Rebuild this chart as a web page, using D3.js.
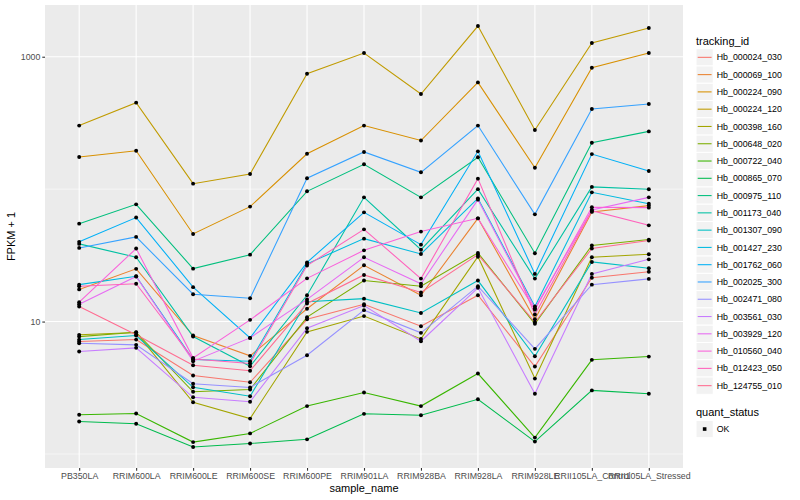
<!DOCTYPE html>
<html>
<head>
<meta charset="utf-8">
<script src="https://cdn.jsdelivr.net/npm/d3@7"></script>
<style>
  body { margin: 0; background: #fff; }
  text { font-family: "Liberation Sans", Arial, sans-serif; }
</style>
</head>
<body>
<script>
// categorias del eje x
var samples = ["PB350LA", "RRIM600LA", "RRIM600LE", "RRIM600SE", "RRIM600PE", "RRIM901LA",
    "RRIM928BA", "RRIM928LA", "RRIM928LE", "RRII105LA_Control", "RRII105LA_Stressed"];

var ids = ["Hb_000024_030", "Hb_000069_100", "Hb_000224_090", "Hb_000224_120", "Hb_000398_160",
    "Hb_000648_020", "Hb_000722_040", "Hb_000865_070", "Hb_000975_110", "Hb_001173_040",
    "Hb_001307_090", "Hb_001427_230", "Hb_001762_060", "Hb_002025_300", "Hb_002471_080",
    "Hb_003561_030", "Hb_003929_120", "Hb_010560_040", "Hb_012423_050", "Hb_124755_010"];

// paleta hue de ggplot (20 niveles)
var colors = ["#F8766D", "#EA8331", "#D89000", "#C09B00", "#A3A500", "#7CAE00", "#39B600", "#00BB4E",
    "#00BF7D", "#00C1A3", "#00BFC4", "#00BAE0", "#00B0F6", "#35A2FF", "#9590FF", "#C77CFF",
    "#E76BF3", "#FA62DB", "#FF62BC", "#FF6C91"];

// FPKM + 1, una lista por tracking_id (orden de samples)
var v000024_030 = [7.07, 7.31, 3.91, 3.48, 10.4, 13.5, 9.22, 15.8, 4.58, 21.4, 23.8];
var v000069_100 = [17.5, 25.0, 7.84, 5.51, 12.5, 26.6, 15.8, 60.2, 10.4, 67.3, 75.1];
var v000224_090 = [175, 195, 45.9, 73.8, 185, 302, 233, 640, 145, 826, 1066];
var v000224_120 = [302, 450, 110, 130, 744, 1066, 523, 1705, 280, 1269, 1647];
var v000398_160 = [7.94, 8.26, 2.46, 1.85, 8.36, 11.0, 7.40, 30.9, 3.71, 30.6, 32.2];
var v000648_020 = [7.70, 8.30, 2.95, 3.07, 10.8, 20.4, 18.5, 33.0, 9.61, 37.5, 41.6];
var v000722_040 = [1.98, 2.02, 1.23, 1.43, 2.30, 2.91, 2.30, 4.05, 1.33, 5.14, 5.44];
var v000865_070 = [1.76, 1.69, 1.13, 1.20, 1.29, 2.01, 1.96, 2.59, 1.24, 3.02, 2.85];
var v000975_110 = [54.9, 76.8, 25.1, 32.0, 96.3, 154, 86.7, 174, 32.8, 224, 273];
var v001173_040 = [38.6, 30.6, 7.70, 4.60, 15.8, 86.7, 34.9, 100, 21.1, 104, 99.7];
var v001307_090 = [7.31, 7.84, 3.19, 2.73, 14.1, 14.9, 11.6, 20.4, 5.47, 28.2, 25.3];
var v001427_230 = [19.0, 22.0, 5.17, 5.02, 27.3, 42.3, 32.4, 85.2, 13.0, 94.6, 77.7];
var v001762_060 = [40.0, 61.0, 18.2, 7.53, 28.0, 66.8, 38.1, 193, 22.9, 184, 137];
var v002025_300 = [36.0, 43.6, 16.1, 15.0, 121, 191, 134, 302, 64.5, 403, 440];
var v002471_080 = [6.86, 6.67, 3.39, 3.18, 5.57, 12.2, 8.22, 18.5, 6.22, 19.0, 21.0];
var v003561_030 = [5.94, 6.33, 2.68, 2.48, 8.90, 13.2, 7.10, 18.0, 2.85, 22.9, 29.5];
var v003929_120 = [13.5, 21.9, 5.02, 7.53, 14.7, 30.6, 19.3, 83.3, 12.6, 69.7, 86.7];
var v010560_040 = [14.0, 35.6, 5.32, 10.3, 21.2, 34.5, 47.8, 60.2, 12.3, 72.9, 72.5];
var v012423_050 = [18.5, 19.3, 5.21, 4.82, 26.5, 49.7, 21.1, 120, 11.3, 68.8, 53.3];
var v124755_010 = [13.0, 7.94, 4.68, 4.25, 13.7, 22.5, 16.6, 32.0, 9.88, 35.6, 40.9];

var values = [v000024_030, v000069_100, v000224_090, v000224_120, v000398_160, v000648_020,
    v000722_040, v000865_070, v000975_110, v001173_040, v001307_090, v001427_230, v001762_060,
    v002025_300, v002471_080, v003561_030, v003929_120, v010560_040, v012423_050, v124755_010];

var yTicks = [10, 1000];
var yMinor = [1, 100];

const w = 800;
const h = 500;
const panel = { left: 45, right: 683, top: 5, bottom: 468 };

var series = ids.map(function (id, i) {
    return { id: id, color: colors[i], pts: samples.map(function (s, j) { return { s: s, v: values[i][j] }; }) };
});

var svg = d3.select("body")
    .append("svg")
    .attr("width", w)
    .attr("height", h);

svg.append("rect").attr("width", w).attr("height", h).attr("fill", "#fff");

// escalas (log10 con expansion del 5% como ggplot)
var allV = [].concat.apply([], values);
var lo = Math.log10(d3.min(allV)), hi = Math.log10(d3.max(allV));
var pad = (hi - lo) * 0.05;

var y = d3.scaleLog()
    .domain([Math.pow(10, lo - pad), Math.pow(10, hi + pad)])
    .range([panel.bottom, panel.top]);

var x = d3.scalePoint()
    .domain(samples)
    .range([panel.left, panel.right])
    .padding(0.6);

// panel gris
svg.append("rect")
    .attr("x", panel.left)
    .attr("y", panel.top)
    .attr("width", panel.right - panel.left)
    .attr("height", panel.bottom - panel.top)
    .attr("fill", "#EBEBEB");

svg.selectAll("line.minor")
    .data(yMinor)
    .enter()
    .append("line")
    .attr("x1", panel.left).attr("x2", panel.right)
    .attr("y1", function (d) { return y(d); })
    .attr("y2", function (d) { return y(d); })
    .attr("stroke", "#fff")
    .attr("stroke-width", 0.55);

svg.selectAll("line.major")
    .data(yTicks)
    .enter()
    .append("line")
    .attr("x1", panel.left).attr("x2", panel.right)
    .attr("y1", function (d) { return y(d); })
    .attr("y2", function (d) { return y(d); })
    .attr("stroke", "#fff")
    .attr("stroke-width", 1.1);

svg.selectAll("line.vgrid")
    .data(samples)
    .enter()
    .append("line")
    .attr("x1", function (d) { return x(d); })
    .attr("x2", function (d) { return x(d); })
    .attr("y1", panel.top).attr("y2", panel.bottom)
    .attr("stroke", "#fff")
    .attr("stroke-width", 1.1);

// ejes
var yAxis = svg.append("g")
    .attr("transform", "translate(" + panel.left + ",0)")
    .call(d3.axisLeft(y).tickValues(yTicks).tickFormat(d3.format("d")).tickSize(2.7).tickPadding(2));
var xAxis = svg.append("g")
    .attr("transform", "translate(0," + panel.bottom + ")")
    .call(d3.axisBottom(x).tickSize(2.7).tickPadding(2));

[yAxis, xAxis].forEach(function (g) {
    g.select(".domain").remove();
    g.selectAll(".tick line").attr("stroke", "#333333").attr("stroke-width", 1.1);
    g.selectAll(".tick text")
        .attr("fill", "#4D4D4D")
        .attr("font-size", "8.8px")
        .attr("font-family", "Liberation Sans, Arial, sans-serif");
});

// lineas
var line = d3.line()
    .x(function (d) { return x(d.s); })
    .y(function (d) { return y(d.v); });

svg.selectAll("path.serie")
    .data(series)
    .enter()
    .append("path")
    .attr("class", "serie")
    .attr("d", function (d) { return line(d.pts); })
    .attr("fill", "none")
    .attr("stroke", function (d) { return d.color; })
    .attr("stroke-width", 1.07);

// puntos
var pts = [].concat.apply([], series.map(function (d) { return d.pts; }));
svg.selectAll("circle.pt")
    .data(pts)
    .enter()
    .append("circle")
    .attr("cx", function (d) { return x(d.s); })
    .attr("cy", function (d) { return y(d.v); })
    .attr("r", 1.95)
    .attr("fill", "#000");

// titulos de ejes
svg.append("text")
    .text("sample_name")
    .attr("x", (panel.left + panel.right) / 2)
    .attr("y", 492)
    .attr("font-size", "11px")
    .attr("text-anchor", "middle");

svg.append("text")
    .text("FPKM + 1")
    .attr("transform", "translate(15," + (panel.top + panel.bottom) / 2 + ") rotate(-90)")
    .attr("font-size", "11px")
    .attr("text-anchor", "middle");

// leyenda
var lx = 696, keyH = 17.28, ly0 = 48.7;
svg.append("text")
    .text("tracking_id")
    .attr("x", lx)
    .attr("y", 44.5)
    .attr("font-size", "11px");

var keys = svg.selectAll("g.key")
    .data(series)
    .enter()
    .append("g")
    .attr("transform", function (d, i) { return "translate(" + lx + "," + (ly0 + i * keyH) + ")"; });

keys.append("rect")
    .attr("width", keyH).attr("height", keyH)
    .attr("fill", "#F2F2F2")
    .attr("stroke", "#fff");
keys.append("line")
    .attr("x1", 1.7).attr("x2", keyH - 1.7)
    .attr("y1", keyH / 2).attr("y2", keyH / 2)
    .attr("stroke", function (d) { return d.color; })
    .attr("stroke-width", 1.07);
keys.append("text")
    .text(function (d) { return d.id; })
    .attr("x", keyH + 3.5)
    .attr("y", keyH / 2 + 3.1)
    .attr("font-size", "8.8px");

svg.append("text")
    .text("quant_status")
    .attr("x", lx)
    .attr("y", 416)
    .attr("font-size", "11px");

var q = svg.append("g").attr("transform", "translate(" + lx + ",420.4)");
q.append("rect").attr("width", keyH).attr("height", keyH).attr("fill", "#F2F2F2").attr("stroke", "#fff");
q.append("rect").attr("x", keyH / 2 - 1.8).attr("y", keyH / 2 - 1.8).attr("width", 3.6).attr("height", 3.6).attr("fill", "#000");
q.append("text").text("OK").attr("x", keyH + 3.5).attr("y", keyH / 2 + 3.1).attr("font-size", "8.8px");
</script>
</body>
</html>
